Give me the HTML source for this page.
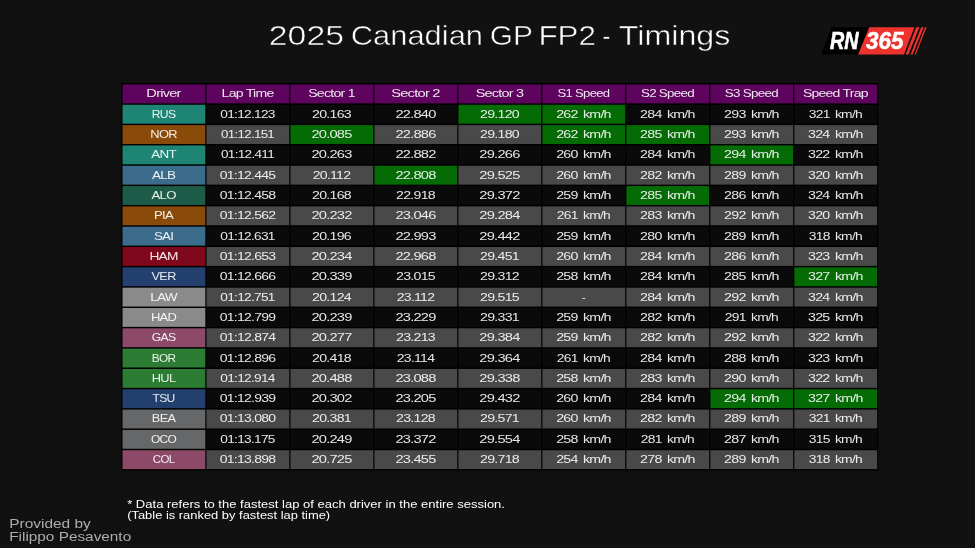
<!DOCTYPE html>
<html lang="en">
<head>
<meta charset="utf-8">
<title>2025 Canadian GP FP2 - Timings</title>
<style>
html,body{margin:0;padding:0;background:#111111;overflow:hidden}
svg{display:block;will-change:transform}
text{font-family:"Liberation Sans", sans-serif;fill:#fff;white-space:pre}
.tbl text{font-size:10.5px;text-anchor:middle;letter-spacing:-0.55px;fill-opacity:0.9}
</style>
</head>
<body>
<svg width="975" height="548" viewBox="0 0 975 548">
<rect width="975" height="548" fill="#111111"/>
<g class="tbl">
<rect x="121.32" y="83.04" width="757.02" height="387.51" fill="#000000"/>
<rect x="122.52" y="84.48" width="82.78" height="18.87" fill="#5e045e"/><text transform="translate(163.53 97.07) scale(1.392 1)">Driver</text>
<rect x="206.5" y="84.48" width="82.78" height="18.87" fill="#5e045e"/><text transform="translate(247.52 97.07) scale(1.342 1)">Lap Time</text>
<rect x="290.48" y="84.48" width="82.78" height="18.87" fill="#5e045e"/><text transform="translate(331.5 97.07) scale(1.348 1)">Sector 1</text>
<rect x="374.46" y="84.48" width="82.78" height="18.87" fill="#5e045e"/><text transform="translate(415.47 97.07) scale(1.4 1)">Sector 2</text>
<rect x="458.44" y="84.48" width="82.78" height="18.87" fill="#5e045e"/><text transform="translate(499.45 97.07) scale(1.374 1)">Sector 3</text>
<rect x="542.42" y="84.48" width="82.78" height="18.87" fill="#5e045e"/><text transform="translate(583.47 97.07) scale(1.248 1)">S1 Speed</text>
<rect x="626.4" y="84.48" width="82.78" height="18.87" fill="#5e045e"/><text transform="translate(667.44 97.07) scale(1.272 1)">S2 Speed</text>
<rect x="710.38" y="84.48" width="82.78" height="18.87" fill="#5e045e"/><text transform="translate(751.42 97.07) scale(1.277 1)">S3 Speed</text>
<rect x="794.36" y="84.48" width="82.78" height="18.87" fill="#5e045e"/><text transform="translate(835.38 97.07) scale(1.332 1)">Speed Trap</text>
<rect x="122.52" y="104.8" width="82.78" height="18.87" fill="#1e8574"/><text transform="translate(163.59 117.69) scale(1.158 1)">RUS</text>
<rect x="206.5" y="104.8" width="82.78" height="18.87" fill="#0a0a0a"/><text transform="translate(247.53 117.69) scale(1.304 1)">01:12.123</text>
<rect x="290.48" y="104.8" width="82.78" height="18.87" fill="#0a0a0a"/><text transform="translate(331.5 117.69) scale(1.349 1)">20.163</text>
<rect x="374.46" y="104.8" width="82.78" height="18.87" fill="#0a0a0a"/><text transform="translate(415.47 117.69) scale(1.396 1)">22.840</text>
<rect x="458.44" y="104.8" width="82.78" height="18.87" fill="#056b05"/><text transform="translate(499.46 117.69) scale(1.349 1)">29.120</text>
<rect x="542.42" y="104.8" width="82.78" height="18.87" fill="#056b05"/><text transform="translate(583.44 117.69) scale(1.353 1)" word-spacing="1.6">262 km/h</text>
<rect x="626.4" y="104.8" width="82.78" height="18.87" fill="#0a0a0a"/><text transform="translate(667.42 117.69) scale(1.353 1)" word-spacing="1.6">284 km/h</text>
<rect x="710.38" y="104.8" width="82.78" height="18.87" fill="#0a0a0a"/><text transform="translate(751.4 117.69) scale(1.353 1)" word-spacing="1.6">293 km/h</text>
<rect x="794.36" y="104.8" width="82.78" height="18.87" fill="#0a0a0a"/><text transform="translate(835.39 117.69) scale(1.32 1)" word-spacing="1.6">321 km/h</text>
<rect x="122.52" y="125.12" width="82.78" height="18.87" fill="#8a4a0a"/><text transform="translate(163.57 138.01) scale(1.225 1)">NOR</text>
<rect x="206.5" y="125.12" width="82.78" height="18.87" fill="#494949"/><text transform="translate(247.54 138.01) scale(1.272 1)">01:12.151</text>
<rect x="290.48" y="125.12" width="82.78" height="18.87" fill="#056b05"/><text transform="translate(331.49 138.01) scale(1.396 1)">20.085</text>
<rect x="374.46" y="125.12" width="82.78" height="18.87" fill="#494949"/><text transform="translate(415.47 138.01) scale(1.396 1)">22.886</text>
<rect x="458.44" y="125.12" width="82.78" height="18.87" fill="#494949"/><text transform="translate(499.46 138.01) scale(1.349 1)">29.180</text>
<rect x="542.42" y="125.12" width="82.78" height="18.87" fill="#056b05"/><text transform="translate(583.44 138.01) scale(1.353 1)" word-spacing="1.6">262 km/h</text>
<rect x="626.4" y="125.12" width="82.78" height="18.87" fill="#056b05"/><text transform="translate(667.42 138.01) scale(1.353 1)" word-spacing="1.6">285 km/h</text>
<rect x="710.38" y="125.12" width="82.78" height="18.87" fill="#494949"/><text transform="translate(751.4 138.01) scale(1.353 1)" word-spacing="1.6">293 km/h</text>
<rect x="794.36" y="125.12" width="82.78" height="18.87" fill="#494949"/><text transform="translate(835.38 138.01) scale(1.353 1)" word-spacing="1.6">324 km/h</text>
<rect x="122.52" y="145.44" width="82.78" height="18.87" fill="#1e8574"/><text transform="translate(163.56 158.33) scale(1.28 1)">ANT</text>
<rect x="206.5" y="145.44" width="82.78" height="18.87" fill="#0a0a0a"/><text transform="translate(247.53 158.33) scale(1.296 1)">01:12.411</text>
<rect x="290.48" y="145.44" width="82.78" height="18.87" fill="#0a0a0a"/><text transform="translate(331.49 158.33) scale(1.396 1)">20.263</text>
<rect x="374.46" y="145.44" width="82.78" height="18.87" fill="#0a0a0a"/><text transform="translate(415.47 158.33) scale(1.396 1)">22.882</text>
<rect x="458.44" y="145.44" width="82.78" height="18.87" fill="#0a0a0a"/><text transform="translate(499.45 158.33) scale(1.396 1)">29.266</text>
<rect x="542.42" y="145.44" width="82.78" height="18.87" fill="#0a0a0a"/><text transform="translate(583.44 158.33) scale(1.353 1)" word-spacing="1.6">260 km/h</text>
<rect x="626.4" y="145.44" width="82.78" height="18.87" fill="#0a0a0a"/><text transform="translate(667.42 158.33) scale(1.353 1)" word-spacing="1.6">284 km/h</text>
<rect x="710.38" y="145.44" width="82.78" height="18.87" fill="#056b05"/><text transform="translate(751.4 158.33) scale(1.353 1)" word-spacing="1.6">294 km/h</text>
<rect x="794.36" y="145.44" width="82.78" height="18.87" fill="#0a0a0a"/><text transform="translate(835.38 158.33) scale(1.353 1)" word-spacing="1.6">322 km/h</text>
<rect x="122.52" y="165.76" width="82.78" height="18.87" fill="#3c6c8c"/><text transform="translate(163.56 178.65) scale(1.284 1)">ALB</text>
<rect x="206.5" y="165.76" width="82.78" height="18.87" fill="#494949"/><text transform="translate(247.52 178.65) scale(1.337 1)">01:12.445</text>
<rect x="290.48" y="165.76" width="82.78" height="18.87" fill="#494949"/><text transform="translate(331.5 178.65) scale(1.338 1)">20.112</text>
<rect x="374.46" y="165.76" width="82.78" height="18.87" fill="#056b05"/><text transform="translate(415.47 178.65) scale(1.396 1)">22.808</text>
<rect x="458.44" y="165.76" width="82.78" height="18.87" fill="#494949"/><text transform="translate(499.45 178.65) scale(1.396 1)">29.525</text>
<rect x="542.42" y="165.76" width="82.78" height="18.87" fill="#494949"/><text transform="translate(583.44 178.65) scale(1.353 1)" word-spacing="1.6">260 km/h</text>
<rect x="626.4" y="165.76" width="82.78" height="18.87" fill="#494949"/><text transform="translate(667.42 178.65) scale(1.353 1)" word-spacing="1.6">282 km/h</text>
<rect x="710.38" y="165.76" width="82.78" height="18.87" fill="#494949"/><text transform="translate(751.4 178.65) scale(1.353 1)" word-spacing="1.6">289 km/h</text>
<rect x="794.36" y="165.76" width="82.78" height="18.87" fill="#494949"/><text transform="translate(835.38 178.65) scale(1.353 1)" word-spacing="1.6">320 km/h</text>
<rect x="122.52" y="186.08" width="82.78" height="18.87" fill="#1c5c48"/><text transform="translate(163.56 198.96) scale(1.258 1)">ALO</text>
<rect x="206.5" y="186.08" width="82.78" height="18.87" fill="#0a0a0a"/><text transform="translate(247.52 198.96) scale(1.337 1)">01:12.458</text>
<rect x="290.48" y="186.08" width="82.78" height="18.87" fill="#0a0a0a"/><text transform="translate(331.5 198.96) scale(1.349 1)">20.168</text>
<rect x="374.46" y="186.08" width="82.78" height="18.87" fill="#0a0a0a"/><text transform="translate(415.48 198.96) scale(1.349 1)">22.918</text>
<rect x="458.44" y="186.08" width="82.78" height="18.87" fill="#0a0a0a"/><text transform="translate(499.45 198.96) scale(1.396 1)">29.372</text>
<rect x="542.42" y="186.08" width="82.78" height="18.87" fill="#0a0a0a"/><text transform="translate(583.44 198.96) scale(1.353 1)" word-spacing="1.6">259 km/h</text>
<rect x="626.4" y="186.08" width="82.78" height="18.87" fill="#056b05"/><text transform="translate(667.42 198.96) scale(1.353 1)" word-spacing="1.6">285 km/h</text>
<rect x="710.38" y="186.08" width="82.78" height="18.87" fill="#0a0a0a"/><text transform="translate(751.4 198.96) scale(1.353 1)" word-spacing="1.6">286 km/h</text>
<rect x="794.36" y="186.08" width="82.78" height="18.87" fill="#0a0a0a"/><text transform="translate(835.38 198.96) scale(1.353 1)" word-spacing="1.6">324 km/h</text>
<rect x="122.52" y="206.4" width="82.78" height="18.87" fill="#8a4a0a"/><text transform="translate(163.57 219.28) scale(1.248 1)">PIA</text>
<rect x="206.5" y="206.4" width="82.78" height="18.87" fill="#494949"/><text transform="translate(247.52 219.28) scale(1.337 1)">01:12.562</text>
<rect x="290.48" y="206.4" width="82.78" height="18.87" fill="#494949"/><text transform="translate(331.49 219.28) scale(1.396 1)">20.232</text>
<rect x="374.46" y="206.4" width="82.78" height="18.87" fill="#494949"/><text transform="translate(415.47 219.28) scale(1.396 1)">23.046</text>
<rect x="458.44" y="206.4" width="82.78" height="18.87" fill="#494949"/><text transform="translate(499.45 219.28) scale(1.396 1)">29.284</text>
<rect x="542.42" y="206.4" width="82.78" height="18.87" fill="#494949"/><text transform="translate(583.45 219.28) scale(1.32 1)" word-spacing="1.6">261 km/h</text>
<rect x="626.4" y="206.4" width="82.78" height="18.87" fill="#494949"/><text transform="translate(667.42 219.28) scale(1.353 1)" word-spacing="1.6">283 km/h</text>
<rect x="710.38" y="206.4" width="82.78" height="18.87" fill="#494949"/><text transform="translate(751.4 219.28) scale(1.353 1)" word-spacing="1.6">292 km/h</text>
<rect x="794.36" y="206.4" width="82.78" height="18.87" fill="#494949"/><text transform="translate(835.38 219.28) scale(1.353 1)" word-spacing="1.6">320 km/h</text>
<rect x="122.52" y="226.72" width="82.78" height="18.87" fill="#3c6c8c"/><text transform="translate(163.56 239.6) scale(1.268 1)">SAI</text>
<rect x="206.5" y="226.72" width="82.78" height="18.87" fill="#0a0a0a"/><text transform="translate(247.53 239.6) scale(1.304 1)">01:12.631</text>
<rect x="290.48" y="226.72" width="82.78" height="18.87" fill="#0a0a0a"/><text transform="translate(331.5 239.6) scale(1.349 1)">20.196</text>
<rect x="374.46" y="226.72" width="82.78" height="18.87" fill="#0a0a0a"/><text transform="translate(415.47 239.6) scale(1.396 1)">22.993</text>
<rect x="458.44" y="226.72" width="82.78" height="18.87" fill="#0a0a0a"/><text transform="translate(499.45 239.6) scale(1.396 1)">29.442</text>
<rect x="542.42" y="226.72" width="82.78" height="18.87" fill="#0a0a0a"/><text transform="translate(583.44 239.6) scale(1.353 1)" word-spacing="1.6">259 km/h</text>
<rect x="626.4" y="226.72" width="82.78" height="18.87" fill="#0a0a0a"/><text transform="translate(667.42 239.6) scale(1.353 1)" word-spacing="1.6">280 km/h</text>
<rect x="710.38" y="226.72" width="82.78" height="18.87" fill="#0a0a0a"/><text transform="translate(751.4 239.6) scale(1.353 1)" word-spacing="1.6">289 km/h</text>
<rect x="794.36" y="226.72" width="82.78" height="18.87" fill="#0a0a0a"/><text transform="translate(835.39 239.6) scale(1.32 1)" word-spacing="1.6">318 km/h</text>
<rect x="122.52" y="247.04" width="82.78" height="18.87" fill="#80081c"/><text transform="translate(163.55 259.92) scale(1.308 1)">HAM</text>
<rect x="206.5" y="247.04" width="82.78" height="18.87" fill="#494949"/><text transform="translate(247.52 259.92) scale(1.337 1)">01:12.653</text>
<rect x="290.48" y="247.04" width="82.78" height="18.87" fill="#494949"/><text transform="translate(331.49 259.92) scale(1.396 1)">20.234</text>
<rect x="374.46" y="247.04" width="82.78" height="18.87" fill="#494949"/><text transform="translate(415.47 259.92) scale(1.396 1)">22.968</text>
<rect x="458.44" y="247.04" width="82.78" height="18.87" fill="#494949"/><text transform="translate(499.46 259.92) scale(1.349 1)">29.451</text>
<rect x="542.42" y="247.04" width="82.78" height="18.87" fill="#494949"/><text transform="translate(583.44 259.92) scale(1.353 1)" word-spacing="1.6">260 km/h</text>
<rect x="626.4" y="247.04" width="82.78" height="18.87" fill="#494949"/><text transform="translate(667.42 259.92) scale(1.353 1)" word-spacing="1.6">284 km/h</text>
<rect x="710.38" y="247.04" width="82.78" height="18.87" fill="#494949"/><text transform="translate(751.4 259.92) scale(1.353 1)" word-spacing="1.6">286 km/h</text>
<rect x="794.36" y="247.04" width="82.78" height="18.87" fill="#494949"/><text transform="translate(835.38 259.92) scale(1.353 1)" word-spacing="1.6">323 km/h</text>
<rect x="122.52" y="267.36" width="82.78" height="18.87" fill="#223f6e"/><text transform="translate(163.58 280.24) scale(1.207 1)">VER</text>
<rect x="206.5" y="267.36" width="82.78" height="18.87" fill="#0a0a0a"/><text transform="translate(247.52 280.24) scale(1.337 1)">01:12.666</text>
<rect x="290.48" y="267.36" width="82.78" height="18.87" fill="#0a0a0a"/><text transform="translate(331.49 280.24) scale(1.396 1)">20.339</text>
<rect x="374.46" y="267.36" width="82.78" height="18.87" fill="#0a0a0a"/><text transform="translate(415.48 280.24) scale(1.349 1)">23.015</text>
<rect x="458.44" y="267.36" width="82.78" height="18.87" fill="#0a0a0a"/><text transform="translate(499.46 280.24) scale(1.349 1)">29.312</text>
<rect x="542.42" y="267.36" width="82.78" height="18.87" fill="#0a0a0a"/><text transform="translate(583.44 280.24) scale(1.353 1)" word-spacing="1.6">258 km/h</text>
<rect x="626.4" y="267.36" width="82.78" height="18.87" fill="#0a0a0a"/><text transform="translate(667.42 280.24) scale(1.353 1)" word-spacing="1.6">284 km/h</text>
<rect x="710.38" y="267.36" width="82.78" height="18.87" fill="#0a0a0a"/><text transform="translate(751.4 280.24) scale(1.353 1)" word-spacing="1.6">285 km/h</text>
<rect x="794.36" y="267.36" width="82.78" height="18.87" fill="#056b05"/><text transform="translate(835.38 280.24) scale(1.353 1)" word-spacing="1.6">327 km/h</text>
<rect x="122.52" y="287.68" width="82.78" height="18.87" fill="#8a8a8a"/><text transform="translate(163.55 300.56) scale(1.297 1)">LAW</text>
<rect x="206.5" y="287.68" width="82.78" height="18.87" fill="#494949"/><text transform="translate(247.53 300.56) scale(1.304 1)">01:12.751</text>
<rect x="290.48" y="287.68" width="82.78" height="18.87" fill="#494949"/><text transform="translate(331.5 300.56) scale(1.349 1)">20.124</text>
<rect x="374.46" y="287.68" width="82.78" height="18.87" fill="#494949"/><text transform="translate(415.48 300.56) scale(1.338 1)">23.112</text>
<rect x="458.44" y="287.68" width="82.78" height="18.87" fill="#494949"/><text transform="translate(499.46 300.56) scale(1.349 1)">29.515</text>
<rect x="542.42" y="287.68" width="82.78" height="18.87" fill="#494949"/><text transform="translate(583.53 300.56) scale(1.036 1)">-</text>
<rect x="626.4" y="287.68" width="82.78" height="18.87" fill="#494949"/><text transform="translate(667.42 300.56) scale(1.353 1)" word-spacing="1.6">284 km/h</text>
<rect x="710.38" y="287.68" width="82.78" height="18.87" fill="#494949"/><text transform="translate(751.4 300.56) scale(1.353 1)" word-spacing="1.6">292 km/h</text>
<rect x="794.36" y="287.68" width="82.78" height="18.87" fill="#494949"/><text transform="translate(835.38 300.56) scale(1.353 1)" word-spacing="1.6">324 km/h</text>
<rect x="122.52" y="307.99" width="82.78" height="18.87" fill="#8a8a8a"/><text transform="translate(163.57 320.88) scale(1.236 1)">HAD</text>
<rect x="206.5" y="307.99" width="82.78" height="18.87" fill="#0a0a0a"/><text transform="translate(247.52 320.88) scale(1.337 1)">01:12.799</text>
<rect x="290.48" y="307.99" width="82.78" height="18.87" fill="#0a0a0a"/><text transform="translate(331.49 320.88) scale(1.396 1)">20.239</text>
<rect x="374.46" y="307.99" width="82.78" height="18.87" fill="#0a0a0a"/><text transform="translate(415.47 320.88) scale(1.396 1)">23.229</text>
<rect x="458.44" y="307.99" width="82.78" height="18.87" fill="#0a0a0a"/><text transform="translate(499.46 320.88) scale(1.349 1)">29.331</text>
<rect x="542.42" y="307.99" width="82.78" height="18.87" fill="#0a0a0a"/><text transform="translate(583.44 320.88) scale(1.353 1)" word-spacing="1.6">259 km/h</text>
<rect x="626.4" y="307.99" width="82.78" height="18.87" fill="#0a0a0a"/><text transform="translate(667.42 320.88) scale(1.353 1)" word-spacing="1.6">282 km/h</text>
<rect x="710.38" y="307.99" width="82.78" height="18.87" fill="#0a0a0a"/><text transform="translate(751.41 320.88) scale(1.32 1)" word-spacing="1.6">291 km/h</text>
<rect x="794.36" y="307.99" width="82.78" height="18.87" fill="#0a0a0a"/><text transform="translate(835.38 320.88) scale(1.353 1)" word-spacing="1.6">325 km/h</text>
<rect x="122.52" y="328.31" width="82.78" height="18.87" fill="#8c4a68"/><text transform="translate(163.59 341.2) scale(1.158 1)">GAS</text>
<rect x="206.5" y="328.31" width="82.78" height="18.87" fill="#494949"/><text transform="translate(247.52 341.2) scale(1.337 1)">01:12.874</text>
<rect x="290.48" y="328.31" width="82.78" height="18.87" fill="#494949"/><text transform="translate(331.49 341.2) scale(1.396 1)">20.277</text>
<rect x="374.46" y="328.31" width="82.78" height="18.87" fill="#494949"/><text transform="translate(415.48 341.2) scale(1.349 1)">23.213</text>
<rect x="458.44" y="328.31" width="82.78" height="18.87" fill="#494949"/><text transform="translate(499.45 341.2) scale(1.396 1)">29.384</text>
<rect x="542.42" y="328.31" width="82.78" height="18.87" fill="#494949"/><text transform="translate(583.44 341.2) scale(1.353 1)" word-spacing="1.6">259 km/h</text>
<rect x="626.4" y="328.31" width="82.78" height="18.87" fill="#494949"/><text transform="translate(667.42 341.2) scale(1.353 1)" word-spacing="1.6">282 km/h</text>
<rect x="710.38" y="328.31" width="82.78" height="18.87" fill="#494949"/><text transform="translate(751.4 341.2) scale(1.353 1)" word-spacing="1.6">292 km/h</text>
<rect x="794.36" y="328.31" width="82.78" height="18.87" fill="#494949"/><text transform="translate(835.38 341.2) scale(1.353 1)" word-spacing="1.6">322 km/h</text>
<rect x="122.52" y="348.63" width="82.78" height="18.87" fill="#2c7c34"/><text transform="translate(163.6 361.52) scale(1.126 1)">BOR</text>
<rect x="206.5" y="348.63" width="82.78" height="18.87" fill="#0a0a0a"/><text transform="translate(247.52 361.52) scale(1.337 1)">01:12.896</text>
<rect x="290.48" y="348.63" width="82.78" height="18.87" fill="#0a0a0a"/><text transform="translate(331.5 361.52) scale(1.349 1)">20.418</text>
<rect x="374.46" y="348.63" width="82.78" height="18.87" fill="#0a0a0a"/><text transform="translate(415.48 361.52) scale(1.338 1)">23.114</text>
<rect x="458.44" y="348.63" width="82.78" height="18.87" fill="#0a0a0a"/><text transform="translate(499.45 361.52) scale(1.396 1)">29.364</text>
<rect x="542.42" y="348.63" width="82.78" height="18.87" fill="#0a0a0a"/><text transform="translate(583.45 361.52) scale(1.32 1)" word-spacing="1.6">261 km/h</text>
<rect x="626.4" y="348.63" width="82.78" height="18.87" fill="#0a0a0a"/><text transform="translate(667.42 361.52) scale(1.353 1)" word-spacing="1.6">284 km/h</text>
<rect x="710.38" y="348.63" width="82.78" height="18.87" fill="#0a0a0a"/><text transform="translate(751.4 361.52) scale(1.353 1)" word-spacing="1.6">288 km/h</text>
<rect x="794.36" y="348.63" width="82.78" height="18.87" fill="#0a0a0a"/><text transform="translate(835.38 361.52) scale(1.353 1)" word-spacing="1.6">323 km/h</text>
<rect x="122.52" y="368.95" width="82.78" height="18.87" fill="#2c7c34"/><text transform="translate(163.57 381.84) scale(1.228 1)">HUL</text>
<rect x="206.5" y="368.95" width="82.78" height="18.87" fill="#494949"/><text transform="translate(247.53 381.84) scale(1.304 1)">01:12.914</text>
<rect x="290.48" y="368.95" width="82.78" height="18.87" fill="#494949"/><text transform="translate(331.49 381.84) scale(1.396 1)">20.488</text>
<rect x="374.46" y="368.95" width="82.78" height="18.87" fill="#494949"/><text transform="translate(415.47 381.84) scale(1.396 1)">23.088</text>
<rect x="458.44" y="368.95" width="82.78" height="18.87" fill="#494949"/><text transform="translate(499.45 381.84) scale(1.396 1)">29.338</text>
<rect x="542.42" y="368.95" width="82.78" height="18.87" fill="#494949"/><text transform="translate(583.44 381.84) scale(1.353 1)" word-spacing="1.6">258 km/h</text>
<rect x="626.4" y="368.95" width="82.78" height="18.87" fill="#494949"/><text transform="translate(667.42 381.84) scale(1.353 1)" word-spacing="1.6">283 km/h</text>
<rect x="710.38" y="368.95" width="82.78" height="18.87" fill="#494949"/><text transform="translate(751.4 381.84) scale(1.353 1)" word-spacing="1.6">290 km/h</text>
<rect x="794.36" y="368.95" width="82.78" height="18.87" fill="#494949"/><text transform="translate(835.38 381.84) scale(1.353 1)" word-spacing="1.6">322 km/h</text>
<rect x="122.52" y="389.27" width="82.78" height="18.87" fill="#223f6e"/><text transform="translate(163.59 402.15) scale(1.15 1)">TSU</text>
<rect x="206.5" y="389.27" width="82.78" height="18.87" fill="#0a0a0a"/><text transform="translate(247.52 402.15) scale(1.337 1)">01:12.939</text>
<rect x="290.48" y="389.27" width="82.78" height="18.87" fill="#0a0a0a"/><text transform="translate(331.49 402.15) scale(1.396 1)">20.302</text>
<rect x="374.46" y="389.27" width="82.78" height="18.87" fill="#0a0a0a"/><text transform="translate(415.47 402.15) scale(1.396 1)">23.205</text>
<rect x="458.44" y="389.27" width="82.78" height="18.87" fill="#0a0a0a"/><text transform="translate(499.45 402.15) scale(1.396 1)">29.432</text>
<rect x="542.42" y="389.27" width="82.78" height="18.87" fill="#0a0a0a"/><text transform="translate(583.44 402.15) scale(1.353 1)" word-spacing="1.6">260 km/h</text>
<rect x="626.4" y="389.27" width="82.78" height="18.87" fill="#0a0a0a"/><text transform="translate(667.42 402.15) scale(1.353 1)" word-spacing="1.6">284 km/h</text>
<rect x="710.38" y="389.27" width="82.78" height="18.87" fill="#056b05"/><text transform="translate(751.4 402.15) scale(1.353 1)" word-spacing="1.6">294 km/h</text>
<rect x="794.36" y="389.27" width="82.78" height="18.87" fill="#056b05"/><text transform="translate(835.38 402.15) scale(1.353 1)" word-spacing="1.6">327 km/h</text>
<rect x="122.52" y="409.59" width="82.78" height="18.87" fill="#666768"/><text transform="translate(163.58 422.47) scale(1.212 1)">BEA</text>
<rect x="206.5" y="409.59" width="82.78" height="18.87" fill="#494949"/><text transform="translate(247.52 422.47) scale(1.337 1)">01:13.080</text>
<rect x="290.48" y="409.59" width="82.78" height="18.87" fill="#494949"/><text transform="translate(331.5 422.47) scale(1.349 1)">20.381</text>
<rect x="374.46" y="409.59" width="82.78" height="18.87" fill="#494949"/><text transform="translate(415.48 422.47) scale(1.349 1)">23.128</text>
<rect x="458.44" y="409.59" width="82.78" height="18.87" fill="#494949"/><text transform="translate(499.46 422.47) scale(1.349 1)">29.571</text>
<rect x="542.42" y="409.59" width="82.78" height="18.87" fill="#494949"/><text transform="translate(583.44 422.47) scale(1.353 1)" word-spacing="1.6">260 km/h</text>
<rect x="626.4" y="409.59" width="82.78" height="18.87" fill="#494949"/><text transform="translate(667.42 422.47) scale(1.353 1)" word-spacing="1.6">282 km/h</text>
<rect x="710.38" y="409.59" width="82.78" height="18.87" fill="#494949"/><text transform="translate(751.4 422.47) scale(1.353 1)" word-spacing="1.6">289 km/h</text>
<rect x="794.36" y="409.59" width="82.78" height="18.87" fill="#494949"/><text transform="translate(835.39 422.47) scale(1.32 1)" word-spacing="1.6">321 km/h</text>
<rect x="122.52" y="429.91" width="82.78" height="18.87" fill="#666768"/><text transform="translate(163.6 442.79) scale(1.139 1)">OCO</text>
<rect x="206.5" y="429.91" width="82.78" height="18.87" fill="#0a0a0a"/><text transform="translate(247.53 442.79) scale(1.304 1)">01:13.175</text>
<rect x="290.48" y="429.91" width="82.78" height="18.87" fill="#0a0a0a"/><text transform="translate(331.49 442.79) scale(1.396 1)">20.249</text>
<rect x="374.46" y="429.91" width="82.78" height="18.87" fill="#0a0a0a"/><text transform="translate(415.47 442.79) scale(1.396 1)">23.372</text>
<rect x="458.44" y="429.91" width="82.78" height="18.87" fill="#0a0a0a"/><text transform="translate(499.45 442.79) scale(1.396 1)">29.554</text>
<rect x="542.42" y="429.91" width="82.78" height="18.87" fill="#0a0a0a"/><text transform="translate(583.44 442.79) scale(1.353 1)" word-spacing="1.6">258 km/h</text>
<rect x="626.4" y="429.91" width="82.78" height="18.87" fill="#0a0a0a"/><text transform="translate(667.43 442.79) scale(1.32 1)" word-spacing="1.6">281 km/h</text>
<rect x="710.38" y="429.91" width="82.78" height="18.87" fill="#0a0a0a"/><text transform="translate(751.4 442.79) scale(1.353 1)" word-spacing="1.6">287 km/h</text>
<rect x="794.36" y="429.91" width="82.78" height="18.87" fill="#0a0a0a"/><text transform="translate(835.39 442.79) scale(1.32 1)" word-spacing="1.6">315 km/h</text>
<rect x="122.52" y="450.23" width="82.78" height="18.87" fill="#8c4a68"/><text transform="translate(163.61 463.11) scale(1.096 1)">COL</text>
<rect x="206.5" y="450.23" width="82.78" height="18.87" fill="#494949"/><text transform="translate(247.52 463.11) scale(1.337 1)">01:13.898</text>
<rect x="290.48" y="450.23" width="82.78" height="18.87" fill="#494949"/><text transform="translate(331.49 463.11) scale(1.396 1)">20.725</text>
<rect x="374.46" y="450.23" width="82.78" height="18.87" fill="#494949"/><text transform="translate(415.47 463.11) scale(1.396 1)">23.455</text>
<rect x="458.44" y="450.23" width="82.78" height="18.87" fill="#494949"/><text transform="translate(499.46 463.11) scale(1.349 1)">29.718</text>
<rect x="542.42" y="450.23" width="82.78" height="18.87" fill="#494949"/><text transform="translate(583.44 463.11) scale(1.353 1)" word-spacing="1.6">254 km/h</text>
<rect x="626.4" y="450.23" width="82.78" height="18.87" fill="#494949"/><text transform="translate(667.42 463.11) scale(1.353 1)" word-spacing="1.6">278 km/h</text>
<rect x="710.38" y="450.23" width="82.78" height="18.87" fill="#494949"/><text transform="translate(751.4 463.11) scale(1.353 1)" word-spacing="1.6">289 km/h</text>
<rect x="794.36" y="450.23" width="82.78" height="18.87" fill="#494949"/><text transform="translate(835.39 463.11) scale(1.32 1)" word-spacing="1.6">318 km/h</text>
</g>
<g class="title" font-size="26.9" stroke="#111111" stroke-width="0.5">
<text x="268.8" y="45.2" textLength="75.2" lengthAdjust="spacingAndGlyphs">2025</text>
<text x="350.8" y="45.2" textLength="132.2" lengthAdjust="spacingAndGlyphs">Canadian</text>
<text x="489.8" y="45.2" textLength="43.2" lengthAdjust="spacingAndGlyphs">GP</text>
<text x="538.4" y="45.2" textLength="57.6" lengthAdjust="spacingAndGlyphs">FP2</text>
<text x="602.6" y="45.2" textLength="7.8" lengthAdjust="spacingAndGlyphs">-</text>
<text x="618.8" y="45.2" textLength="111.6" lengthAdjust="spacingAndGlyphs">Timings</text>
</g>
<g class="logo">
<polygon points="831.6,27.2 869.3,27.2 858.1,54.5 821.2,54.5" fill="#000"/>
<polygon points="869.3,27.2 914.4,27.2 903.9,54.5 858.1,54.5" fill="#ee322e"/>
<polygon points="916.2,27.2 919.4,27.2 908.4,54.5 905.7,54.5" fill="#ee322e"/>
<polygon points="921.2,27.2 923.6,27.2 912.6,54.5 910.6,54.5" fill="#ee322e"/>
<polygon points="925,27.2 926.6,27.2 915.8,54.5 914.6,54.5" fill="#ee322e"/>
<text x="830.1" y="49.3" font-size="23.4" font-weight="bold" font-style="italic" stroke="#fff" stroke-width="0.6" textLength="28.5" lengthAdjust="spacingAndGlyphs">RN</text>
<text x="866" y="49.3" font-size="23.4" font-weight="bold" font-style="italic" stroke="#fff" stroke-width="0.5" textLength="37.4" lengthAdjust="spacingAndGlyphs">365</text>
</g>
<g class="notes">
<text x="127.2" y="508" font-size="11" textLength="377.8" lengthAdjust="spacingAndGlyphs">* Data refers to the fastest lap of each driver in the entire session.</text>
<text x="127.2" y="519" font-size="11" textLength="203" lengthAdjust="spacingAndGlyphs">(Table is ranked by fastest lap time)</text>
<text x="9.2" y="528.2" font-size="12.6" style="fill:#adadad" textLength="81.6" lengthAdjust="spacingAndGlyphs">Provided by</text>
<text x="9.2" y="541" font-size="12.6" style="fill:#adadad" textLength="122" lengthAdjust="spacingAndGlyphs">Filippo Pesavento</text>
</g>
</svg>
</body>
</html>
